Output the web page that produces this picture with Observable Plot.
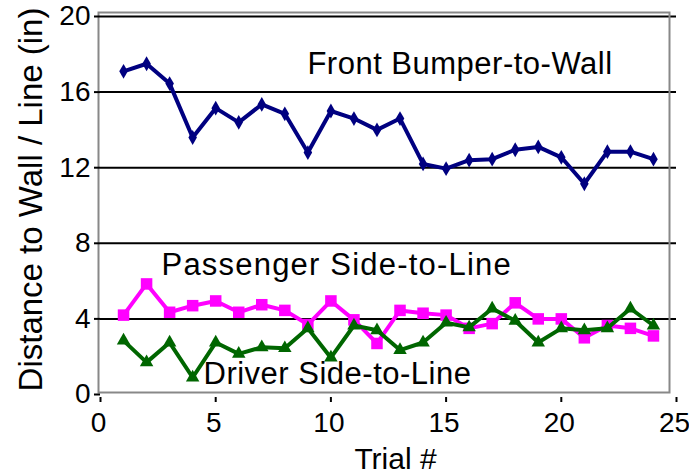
<!DOCTYPE html>
<html>
<head>
<meta charset="utf-8">
<script src="https://cdn.jsdelivr.net/npm/d3@7"></script>
<script src="https://cdn.jsdelivr.net/npm/@observablehq/plot@0.6"></script>
<style>
  body { margin: 0; background: #fff; }
</style>
</head>
<body>
<div id="chart"></div>
<script>
// ---- data ----
const trials = [1,2,3,4,5,6,7,8,9,10,11,12,13,14,15,16,17,18,19,20,21,22,23,24];
const frontBumper = [17.1,17.5,16.45,13.6,15.15,14.4,15.35,14.85,12.8,15.0,14.6,14.0,14.6,12.2,11.95,12.4,12.45,12.95,13.1,12.55,11.15,12.85,12.85,12.45];
const passengerSide = [4.2,5.85,4.35,4.7,4.95,4.35,4.75,4.45,3.7,4.95,3.95,2.7,4.45,4.3,4.2,3.5,3.75,4.85,4.0,4.0,3.0,3.65,3.5,3.1];
const driverSide = [2.85,1.7,2.75,0.9,2.75,2.15,2.5,2.45,3.5,1.95,3.65,3.4,2.35,2.75,3.8,3.55,4.55,3.9,2.75,3.5,3.4,3.5,4.55,3.65];
const seriesNames = ["Front Bumper-to-Wall", "Passenger Side-to-Line", "Driver Side-to-Line"];
const xTicks = [0,5,10,15,20,25];
const yTicks = [0,4,8,12,16,20];
const gridValues = [4,8,12,16,20];
const xTitle = "Trial #";
const yTitle = "Distance to Wall / Line (in)";

const toRows = vals => trials.map((t, i) => ({trial: t, value: vals[i]}));
const front = toRows(frontBumper);
const passenger = toRows(passengerSide);
const driver = toRows(driverSide);

const navy = "#000080", magenta = "#FF00FF", green = "#006600";
const font = "'Liberation Sans', Arial, Helvetica, sans-serif";

const chart = Plot.plot({
  width: 689,
  height: 474,
  marginLeft: 100,
  marginRight: 13,
  marginTop: 16,
  marginBottom: 80,
  style: {fontFamily: font, background: "white", color: "black", overflow: "visible"},
  x: {domain: [0, 25], axis: null, label: null},
  y: {domain: [0, 20], axis: null, label: null},
  marks: [
    Plot.ruleY(gridValues, {stroke: "black", strokeWidth: 2}),
    Plot.frame({stroke: "#888888", strokeWidth: 2, insetLeft: -2, insetRight: 7, insetTop: -4, insetBottom: 2}),
    Plot.axisY(yTicks, {tickSize: 6, tickPadding: 4, fontSize: 28, strokeWidth: 2, label: null}),
    Plot.axisX(xTicks, {tickSize: 0, tickPadding: 18, fontSize: 28, dx: -2, label: null}),
    Plot.tickX(xTicks, {x: d => d, stroke: "black", strokeWidth: 2, insetTop: 381, insetBottom: -8}),
    Plot.line(front, {x: "trial", y: "value", stroke: navy, strokeWidth: 4}),
    Plot.dot(front, {x: "trial", y: "value", symbol: "diamond", fill: navy, r: 4.5}),
    Plot.line(passenger, {x: "trial", y: "value", stroke: magenta, strokeWidth: 4}),
    Plot.dot(passenger, {x: "trial", y: "value", symbol: "square", fill: magenta, r: 6.5}),
    Plot.line(driver, {x: "trial", y: "value", stroke: green, strokeWidth: 4}),
    Plot.dot(driver, {x: "trial", y: "value", symbol: "triangle", fill: green, r: 5}),
    Plot.text([seriesNames[0]], {text: d => d, x: 8.98, y: 16.98, textAnchor: "start", lineAnchor: "bottom", fontSize: 31, fill: "black"}),
    Plot.text([seriesNames[1]], {text: d => d, x: 2.65, y: 6.3, textAnchor: "start", lineAnchor: "bottom", fontSize: 31, fill: "black"}),
    Plot.text([seriesNames[2]], {text: d => d, x: 4.47, y: 0.58, textAnchor: "start", lineAnchor: "bottom", fontSize: 31, fill: "black"}),
    Plot.text([yTitle], {text: d => d, frameAnchor: "left", textAnchor: "middle", rotate: -90, dx: -59, dy: -6, lineAnchor: "bottom", fontSize: 33, fill: "black"}),
    Plot.text([xTitle], {text: d => d, frameAnchor: "bottom", textAnchor: "middle", dx: 7, dy: 74, lineAnchor: "bottom", fontSize: 30, fill: "black"})
  ]
});

// match the slightly wider letter spacing of the series labels in the reference
const spacing = {[seriesNames[0]]: "0.5px", [seriesNames[1]]: "1.2px", [seriesNames[2]]: "0.5px"};
d3.select(chart).selectAll("text").each(function () {
  const s = spacing[this.textContent];
  if (s) this.setAttribute("letter-spacing", s);
});
document.getElementById("chart").appendChild(chart);
</script>
</body>
</html>
